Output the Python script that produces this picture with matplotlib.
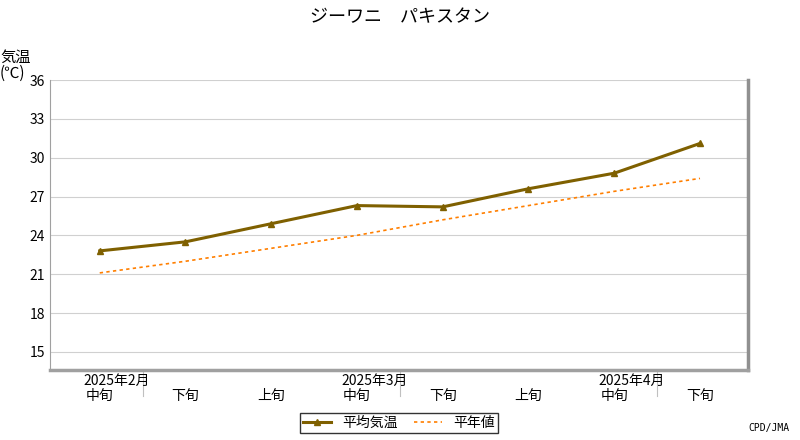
import matplotlib.pyplot as plt
import numpy as np

plt.rcParams['font.family'] = ['Noto Sans CJK JP', 'DejaVu Sans']

periods = ['中旬', '下旬', '上旬', '中旬', '下旬', '上旬', '中旬', '下旬']
months = ['2025年2月', '2025年3月', '2025年4月']
mean_temp = [22.8, 23.5, 24.9, 26.3, 26.2, 27.6, 28.8, 31.1]
normal_temp = [21.1, 22.0, 23.0, 24.0, 25.2, 26.3, 27.4, 28.4]
yticks = [15, 18, 21, 24, 27, 30, 33, 36]

fig = plt.figure(figsize=(8, 4.4), dpi=100)
ax = fig.add_axes([50/800, 1-370/440, 698/800, 290/440])
x = np.arange(len(periods))
ax.plot(x, mean_temp, color='#7f6000', lw=2.2, marker='^', ms=5, label='平均気温')
ax.plot(x, normal_temp, color='#ff7f00', lw=1.2, ls=(0, (2, 2)), label='平年値')
ax.set_xlim(-0.58, 7.56)
ax.set_ylim(13.6, 36)
ax.set_yticks(yticks)
ax.set_yticklabels([str(v) for v in yticks], fontsize=10)
ax.yaxis.grid(True, color='#d0d0d0', lw=0.8)
ax.set_axisbelow(True)
ax.set_xticks(x)
ax.set_xticklabels(periods, fontsize=10)
ax.tick_params(axis='x', length=0, pad=14)
ax.tick_params(axis='y', length=0)
for xb in [0.5, 3.5, 6.5]:
    ax.axvline(xb, ymin=-0.09, ymax=0, color='#c0c0c0', lw=0.8, clip_on=False)
for i, m in zip([0, 3, 6], months):
    ax.text(i + 0.2, -0.015, m, transform=ax.get_xaxis_transform(), ha='center', va='top', fontsize=10)
ax.spines['top'].set_visible(False)
ax.spines['left'].set_color('#a0a0a0')
ax.spines['bottom'].set_color('#a0a0a0')
ax.spines['right'].set_color('#909090')
ax.spines['right'].set_linewidth(2.5)
ax.spines['bottom'].set_linewidth(2.5)
fig.text(0.5, 0.95, 'ジーワニ　パキスタン', ha='center', fontsize=13)
fig.text(0.0, 0.815, '気温\n(℃)', fontsize=11, va='bottom', linespacing=0.9)
fig.text(0.935, 0.02, 'CPD/JMA', fontsize=7, family='DejaVu Sans Mono')
ax.legend(loc='upper center', bbox_to_anchor=(0.5, -0.125), ncol=2, fontsize=10,
          frameon=True, fancybox=False, edgecolor='black', handlelength=2,
          borderpad=0.2, columnspacing=1.2)
fig.savefig('out.png')
